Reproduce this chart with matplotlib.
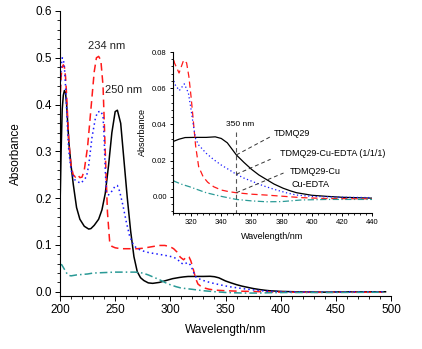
import numpy as np
import matplotlib
matplotlib.use("Agg")
import matplotlib.pyplot as plt
from matplotlib.ticker import MultipleLocator

plt.rcParams['font.family'] = ['Liberation Sans', 'DejaVu Sans']

# TDMQ29 (noir)
wl_tdmq = [200, 201, 202, 203, 204, 205, 206, 207, 208, 210, 212, 215, 218, 222, 226, 228,
           231, 235, 238, 241, 244, 247, 250, 252, 255, 258, 261, 264, 267, 270, 273, 276,
           280, 284, 290, 296, 302, 308, 312, 316, 322, 330, 336, 340, 344, 350, 355, 360,
           365, 370, 375, 381, 386, 390, 400, 410, 420, 440, 460, 480, 495]
abs_tdmq = [0.18, 0.30, 0.39, 0.42, 0.43, 0.425, 0.40, 0.36, 0.32, 0.27, 0.23, 0.18, 0.155,
            0.14, 0.134, 0.135, 0.142, 0.155, 0.175, 0.21, 0.27, 0.34, 0.385, 0.388, 0.36,
            0.28, 0.20, 0.13, 0.075, 0.043, 0.030, 0.024, 0.019, 0.018, 0.020, 0.024, 0.028,
            0.0305, 0.0318, 0.0327, 0.0328, 0.0328, 0.0331, 0.0322, 0.0298, 0.0231, 0.019,
            0.0152, 0.012, 0.0095, 0.007, 0.0047, 0.0032, 0.0022, 0.0008, 0.0002, -0.0003,
            -0.0008, 0.0, 0.0, 0.0]

# TDMQ29-Cu (rouge)
wl_cu = [200, 201, 202, 203, 204, 205, 206, 207, 208, 210, 212, 214, 216, 218, 220, 222, 225,
         228, 231, 233, 235, 237, 239, 241, 243, 245, 247, 250, 255, 260, 265, 270, 275, 280,
         285, 290, 295, 300, 303, 306, 309, 312, 315, 317, 318.5, 320, 321.6, 323, 325, 328,
         331, 335, 340, 345, 350, 360, 370, 380, 393, 410, 440, 460, 495]
abs_cu = [0.40, 0.46, 0.48, 0.485, 0.48, 0.46, 0.42, 0.37, 0.32, 0.27, 0.25, 0.245, 0.25,
          0.244, 0.245, 0.26, 0.31, 0.39, 0.47, 0.50, 0.503, 0.495, 0.44, 0.30, 0.17, 0.107,
          0.097, 0.094, 0.092, 0.092, 0.092, 0.092, 0.093, 0.095, 0.097, 0.099, 0.099, 0.096,
          0.092, 0.085, 0.0739, 0.0684, 0.0754, 0.074, 0.0665, 0.055, 0.0407, 0.028, 0.0166,
          0.011, 0.008, 0.0055, 0.0037, 0.0028, 0.0022, 0.0014, 0.0009, 0.0003, -0.0005,
          -0.001, -0.0012, -0.001, -0.001]

# TDMQ29-Cu-EDTA 1/1/1 (bleu)
wl_edta = [200, 201, 202, 203, 204, 205, 206, 207, 208, 210, 213, 216, 219, 222, 224, 226,
           229, 232, 234, 237, 239, 240, 241, 242, 244, 247, 250, 252, 254, 257, 260, 263,
           266, 269, 273, 278, 282, 290, 297, 303, 307, 309.3, 312.2, 315.5, 318.2, 320,
           321.6, 323, 325, 330, 335, 340, 345, 350, 355, 361, 368, 375, 383, 390, 400, 420,
           440, 470, 495]
abs_edta = [0.42, 0.48, 0.50, 0.497, 0.48, 0.44, 0.39, 0.34, 0.30, 0.26, 0.24, 0.235, 0.232,
            0.24, 0.246, 0.27, 0.33, 0.37, 0.384, 0.386, 0.375, 0.33, 0.26, 0.215, 0.207,
            0.215, 0.226, 0.227, 0.215, 0.185, 0.15, 0.12, 0.103, 0.094, 0.089, 0.085, 0.083,
            0.080, 0.077, 0.074, 0.068, 0.062, 0.0587, 0.0624, 0.0573, 0.048, 0.0388, 0.032,
            0.0286, 0.024, 0.0205, 0.0175, 0.015, 0.0124, 0.0103, 0.0083, 0.006, 0.0041,
            0.0022, 0.0009, 0.0002, -0.0003, -0.0005, 0.0, 0.0]

# Cu-EDTA (cyan)
wl_cuedta = [200, 201.5, 203, 204.5, 206, 208, 210, 215, 220, 225, 230, 240, 250, 260, 268,
             275, 280, 285, 290, 295, 300, 305, 309, 314, 319, 325, 330, 340, 350, 360, 370,
             380, 393, 410, 440, 470, 495]
abs_cuedta = [0.058, 0.058, 0.052, 0.046, 0.040, 0.035, 0.034, 0.036, 0.037, 0.038, 0.040,
              0.041, 0.042, 0.042, 0.042, 0.040, 0.036, 0.031, 0.026, 0.020, 0.015, 0.011,
              0.0085, 0.0068, 0.0055, 0.0037, 0.0022, 0.0002, -0.0015, -0.0023, -0.0028,
              -0.0027, -0.0018, -0.0015, -0.0015, -0.0012, -0.001]

series = [
    (wl_tdmq, abs_tdmq, dict(color='black', ls='-')),
    (wl_cu, abs_cu, dict(color='#ff1a1a', ls=(0, (5, 3)))),
    (wl_edta, abs_edta, dict(color='#1a1aff', ls=(0, (1, 2)))),
    (wl_cuedta, abs_cuedta, dict(color='#2a9a96', ls=(0, (5, 2, 1, 2)))),
]

fig = plt.figure(figsize=(4.22, 3.49), dpi=100)

def style_axes(ax, fs, maj, mino):
    ax.spines['top'].set_visible(False)
    ax.spines['right'].set_visible(False)
    for s in ('left', 'bottom'):
        ax.spines[s].set_linewidth(0.8)
    ax.tick_params(which='major', direction='out', length=maj, width=0.7, labelsize=fs, pad=2)
    ax.tick_params(which='minor', direction='out', length=mino, width=0.6)

# graphique principal
ax = fig.add_axes([0.1422, 0.1519, 0.7844, 0.8166])
for x, y, kw in series:
    ax.plot(x, y, lw=1.1, **kw)
ax.set_xlim(200, 500)
ax.set_ylim(-0.009, 0.6)
ax.xaxis.set_major_locator(MultipleLocator(50))
ax.xaxis.set_minor_locator(MultipleLocator(10))
ax.yaxis.set_major_locator(MultipleLocator(0.1))
ax.yaxis.set_minor_locator(MultipleLocator(0.02))
ax.yaxis.set_major_formatter(plt.FormatStrFormatter('%.1f'))
style_axes(ax, 8.5, 3.6, 2.0)
ax.set_xlabel("Wavelength/nm", fontsize=8.5, labelpad=6)
ax.set_ylabel("Absorbance", fontsize=8.5, labelpad=10)
ax.text(242.6, 0.526, "234 nm", fontsize=8, ha='center', va='center', color='#222222')
ax.text(258, 0.432, "250 nm", fontsize=8, ha='center', va='center', color='#222222')

# encart
axi = fig.add_axes([0.41, 0.3897, 0.4716, 0.4613])
for x, y, kw in series:
    axi.plot(x, y, lw=0.9, **kw)
axi.set_xlim(308, 440)
axi.set_ylim(-0.009, 0.08)
axi.xaxis.set_major_locator(MultipleLocator(20))
axi.xaxis.set_minor_locator(MultipleLocator(4))
axi.yaxis.set_major_locator(MultipleLocator(0.02))
axi.yaxis.set_minor_locator(MultipleLocator(0.004))
axi.yaxis.set_major_formatter(plt.FormatStrFormatter('%.2f'))
axi.patch.set_alpha(0)
style_axes(axi, 5.5, 2.5, 1.3)
axi.set_xlabel("Wavelength/nm", fontsize=6.5, labelpad=4)
axi.set_ylabel("Absorbance", fontsize=6.5, labelpad=4)

axi.plot([350, 350], [0.0358, -0.009], color='#555555', ls=(0, (4, 3)), lw=0.8)
axi.text(352.5, 0.0397, "350 nm", fontsize=6, ha='center', va='center')

# traits de rappel vers les étiquettes
axi.plot([350, 372.7], [0.0231, 0.0332], color='#333333', ls=(0, (4, 3)), lw=0.7)
axi.plot([350, 372.7], [0.0124, 0.0207], color='#333333', ls=(0, (4, 3)), lw=0.7)
axi.plot([350, 381.3], [0.0022, 0.0131], color='#333333', ls=(0, (4, 3)), lw=0.7)
axi.text(374.7, 0.035, "TDMQ29", fontsize=6.5, va='center')
axi.text(379, 0.0237, "TDMQ29-Cu-EDTA (1/1/1)", fontsize=6.5, va='center')
axi.text(385.3, 0.0142, "TDMQ29-Cu", fontsize=6.5, va='center')
axi.text(386.7, 0.007, "Cu-EDTA", fontsize=6.5, va='center')

fig.savefig("out.png", dpi=100)
